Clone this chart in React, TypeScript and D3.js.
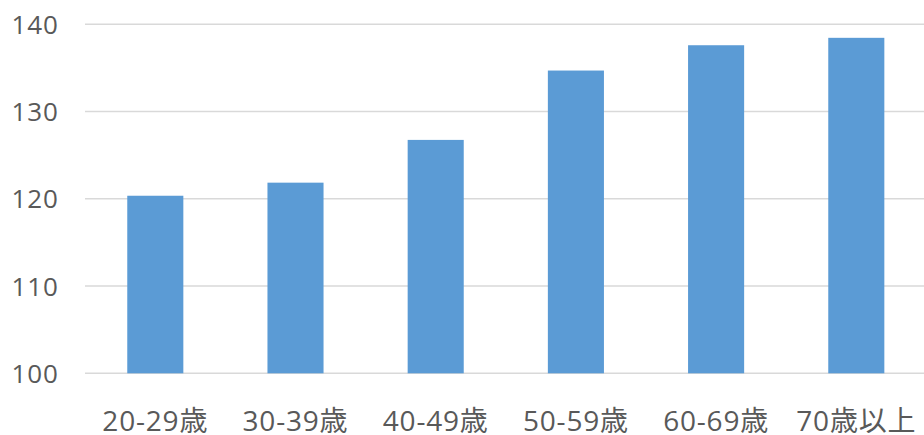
import React from "react";
import * as d3 from "d3";

const categories = ["20-29歳", "30-39歳", "40-49歳", "50-59歳", "60-69歳", "70歳以上"];
const values = [120.35, 121.85, 126.75, 134.7, 137.6, 138.45];
const yTicks = [100, 110, 120, 130, 140];

const W = 924;
const H = 435;
const FONT = '"Open Sans", "Noto Sans CJK JP", sans-serif';

export default function App() {
  const x = d3
    .scaleBand<string>()
    .domain(categories)
    .range([85.2, 926.4])
    .paddingInner(0.6)
    .paddingOuter(0.3);
  const y = d3.scaleLinear().domain([100, 140]).range([373.3, 24.3]);

  return (
    <svg
      width={W}
      height={H}
      style={{ position: "absolute", left: 0, top: 0, background: "#fff" }}
    >
      <g>
        {yTicks.map((t) => (
          <line
            key={t}
            x1={85}
            x2={W}
            y1={y(t)}
            y2={y(t)}
            stroke="#d9d9d9"
            strokeWidth={1.5}
          />
        ))}
      </g>
      <g>
        {categories.map((c, i) => (
          <rect
            key={c}
            x={x(c)}
            y={y(values[i])}
            width={x.bandwidth()}
            height={y(100) - y(values[i])}
            fill="#5b9bd5"
          />
        ))}
      </g>
      <g fontFamily={FONT} fill="#595959">
        {yTicks.map((t) => (
          <text
            key={t}
            x={59}
            y={y(t) + 9.5}
            textAnchor="end"
            fontSize={26}
            letterSpacing={1}
          >
            {t}
          </text>
        ))}
        {categories.map((c) => (
          <text
            key={c}
            x={(x(c) as number) + x.bandwidth() / 2}
            y={430.5}
            textAnchor="middle"
            fontSize={28}
            letterSpacing={0.8}
          >
            {c}
          </text>
        ))}
      </g>
    </svg>
  );
}
